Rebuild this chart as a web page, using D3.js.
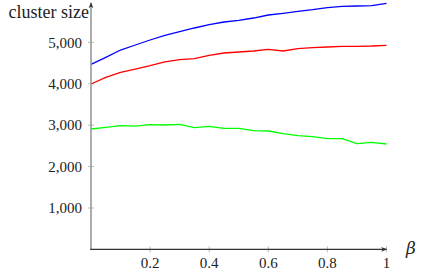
<!DOCTYPE html>
<html>
<head>
<meta charset="utf-8">
<script src="https://cdn.jsdelivr.net/npm/d3@7"></script>
<style>
  body { margin: 0; background: #fff; }
</style>
</head>
<body>
<div id="chart"></div>
<script>
// chart size
var svgWidth = 423;
var svgHeight = 273;
var fontFam = "'Liberation Serif', 'DejaVu Serif', 'Times New Roman', serif";

// data: beta steps of 0.05
var betas = [0, 0.05, 0.1, 0.15, 0.2, 0.25, 0.3, 0.35, 0.4, 0.45, 0.5,
  0.55, 0.6, 0.65, 0.7, 0.75, 0.8, 0.85, 0.9, 0.95, 1];
var blueSizes = [4470, 4640, 4816, 4937, 5058, 5171, 5259, 5348, 5428, 5493, 5530,
  5589, 5662, 5703, 5751, 5790, 5838, 5872, 5879, 5886, 5944];
var redSizes = [3995, 4157, 4278, 4357, 4437, 4527, 4582, 4606, 4688, 4744, 4768,
  4792, 4833, 4792, 4848, 4872, 4889, 4906, 4906, 4913, 4930];
var greenSizes = [2908, 2949, 2988, 2980, 3012, 3005, 3021, 2940, 2973, 2925, 2925,
  2867, 2860, 2795, 2746, 2722, 2674, 2674, 2553, 2587, 2546];
var xTicks = [0.2, 0.4, 0.6, 0.8, 1];
var yTicks = [1000, 2000, 3000, 4000, 5000];

var series = [
  { values: blueSizes, color: "#0000ff" },
  { values: redSizes, color: "#ff0000" },
  { values: greenSizes, color: "#00ff00" }
];

var svg = d3.select("#chart")
  .append("svg")
  .attr("width", svgWidth)
  .attr("height", svgHeight)
  .attr("font-family", fontFam);

var xScale = d3.scaleLinear().domain([0, 1]).range([91, 386.5]);
var yScale = d3.scaleLinear().domain([0, 6000]).range([249.4, 1]);

var yTop = d3.max(blueSizes);

// arrow heads
var defs = svg.append("defs");
function arrow(id, color) {
  defs.append("marker")
    .attr("id", id)
    .attr("viewBox", "0 0 10 10")
    .attr("refX", 9).attr("refY", 5)
    .attr("markerWidth", 6).attr("markerHeight", 6)
    .attr("markerUnits", "userSpaceOnUse")
    .attr("orient", "auto")
    .append("path")
    .attr("d", "M0,1 L10,5 L0,9 L3,5 Z")
    .attr("fill", color);
}
arrow("arrX", "#333");
arrow("arrY", "#333");

// tick marks
svg.append("g").selectAll("line")
  .data(yTicks)
  .join("line")
  .attr("x1", xScale(0) - 3).attr("x2", xScale(0) + 3)
  .attr("y1", d => yScale(d)).attr("y2", d => yScale(d))
  .attr("stroke", "#bbb").attr("stroke-width", 1);

svg.append("g").selectAll("line")
  .data(xTicks)
  .join("line")
  .attr("x1", d => xScale(d)).attr("x2", d => xScale(d))
  .attr("y1", yScale(0) - 3).attr("y2", yScale(0) + 3)
  .attr("stroke", "#bbb").attr("stroke-width", 1);

// lines
var line = d3.line()
  .x((d, i) => xScale(betas[i]))
  .y(d => yScale(d));

svg.append("g").selectAll("path")
  .data(series)
  .join("path")
  .attr("d", d => line(d.values))
  .attr("fill", "none")
  .attr("stroke", d => d.color)
  .attr("stroke-width", 1.3)
  .attr("stroke-linejoin", "round");

// axes lines
svg.append("line")
  .attr("x1", xScale(0)).attr("x2", xScale(0))
  .attr("y1", yScale(0)).attr("y2", yScale(yTop) - 0.5)
  .attr("stroke", "#999").attr("stroke-width", 1.6)
  .attr("marker-end", "url(#arrY)");

svg.append("line")
  .attr("x1", xScale(0) - 0.8).attr("x2", xScale(1))
  .attr("y1", yScale(0)).attr("y2", yScale(0))
  .attr("stroke", "#333").attr("stroke-width", 1.1)
  .attr("marker-end", "url(#arrX)");

// tick labels
svg.append("g").selectAll("text")
  .data(yTicks)
  .join("text")
  .attr("x", xScale(0) - 9)
  .attr("y", d => yScale(d))
  .attr("dy", "0.35em")
  .attr("text-anchor", "end")
  .attr("font-size", "15px")
  .attr("fill", "#222")
  .text(d => d3.format(",")(d));

svg.append("g").selectAll("text")
  .data(xTicks)
  .join("text")
  .attr("x", d => xScale(d))
  .attr("y", 268)
  .attr("text-anchor", "middle")
  .attr("font-size", "15px")
  .attr("fill", "#222")
  .text(d => d3.format("")(d));

// axis labels
svg.append("text")
  .attr("x", 89)
  .attr("y", 18)
  .attr("text-anchor", "end")
  .attr("font-size", "18px")
  .attr("fill", "#222")
  .text("cluster size");

svg.append("text")
  .attr("x", 411)
  .attr("y", 254)
  .attr("text-anchor", "middle")
  .attr("font-size", "17px")
  .attr("font-family", "'DejaVu Serif', serif")
  .attr("font-style", "italic")
  .attr("fill", "#222")
  .text("β");
</script>
</body>
</html>
